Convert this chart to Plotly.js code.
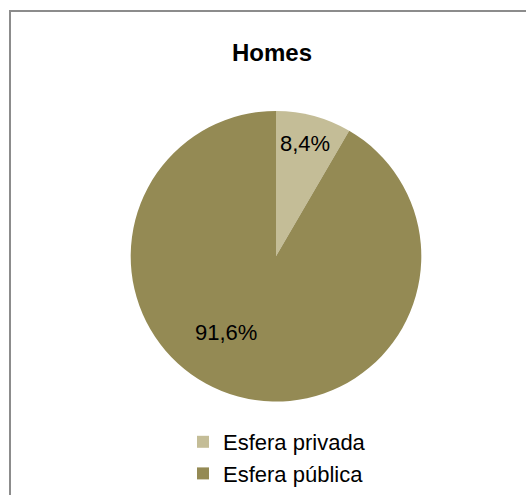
<!DOCTYPE html>
<html>
<head>
<meta charset="utf-8">
<script src="https://cdn.plot.ly/plotly-3.0.1.min.js"></script>
<style>
html,body{margin:0;padding:0;background:#fff;}
#wrap{position:relative;width:526px;height:495px;overflow:hidden;}
#chart{width:526px;height:495px;}
#frame{position:absolute;left:9px;top:10px;width:560px;height:540px;border:2px solid #8c8c8c;box-sizing:border-box;pointer-events:none;}
</style>
</head>
<body>
<div id="wrap"><div id="chart"></div><div id="frame"></div></div>
<script>
const chartTitle = "Homes";
const categories = ["Esfera privada", "Esfera pública"];
const values = [8.4, 91.6];
const percentLabels = ["8,4%", "91,6%"];
const colors = ["#c4bd97", "#948a54"];

const W = 526, H = 495;
const cx = 276, cy = 261, r = 148;

const trace = {
  type: "pie",
  labels: categories,
  values: values,
  sort: false,
  direction: "clockwise",
  rotation: 0,
  textinfo: "none",
  hoverinfo: "label+percent",
  marker: {colors: colors, line: {width: 0}},
  domain: {x: [(cx - r) / W, (cx + r) / W], y: [1 - (cy + r) / H, 1 - (cy - r) / H]}
};

const labelPos = [[305, 146], [226, 339]];
const annotations = percentLabels.map((t, i) => ({
  text: t, showarrow: false, xref: "paper", yref: "paper",
  x: labelPos[i][0] / W, y: 1 - labelPos[i][1] / H,
  xanchor: "center", yanchor: "middle",
  font: {family: "Liberation Sans, Arial, sans-serif", size: 22, color: "#000"}
}));

const layout = {
  width: W, height: H,
  margin: {l: 0, r: 0, t: 0, b: 0},
  paper_bgcolor: "#fff",
  title: {
    text: "<b>" + chartTitle + "</b>",
    x: 272 / W, xanchor: "center", y: 1 - 53 / H, yanchor: "middle",
    font: {family: "Liberation Sans, Arial, sans-serif", size: 24, color: "#000"}
  },
  showlegend: true,
  legend: {
    orientation: "v",
    x: 183 / W, xanchor: "left",
    y: 1 - 429 / H, yanchor: "top",
    font: {family: "Liberation Sans, Arial, sans-serif", size: 22, color: "#000"},
    bgcolor: "rgba(0,0,0,0)"
  },
  annotations: annotations
};

Plotly.newPlot("chart", [trace], layout, {displayModeBar: false, staticPlot: true});
</script>
</body>
</html>
